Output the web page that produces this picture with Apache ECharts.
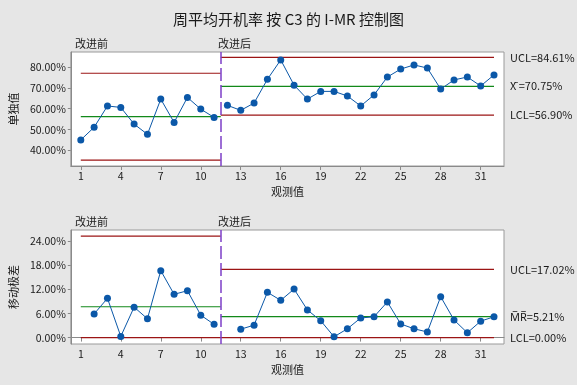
<!DOCTYPE html>
<html>
<head>
<meta charset="utf-8">
<script src="https://cdn.jsdelivr.net/npm/echarts@6/dist/echarts.min.js"></script>
<style>
    html, body { margin: 0; padding: 0; background: #e6e6e6; }
    #chart { width: 577px; height: 385px; }
</style>
</head>
<body>
<div id="chart"></div>
<script>
    // 观测值 1..32, 11 before improvement, 21 after
    const obsPre = [1, 2, 3, 4, 5, 6, 7, 8, 9, 10, 11];
    const obsPost = [12, 13, 14, 15, 16, 17, 18, 19, 20, 21, 22, 23, 24, 25, 26, 27, 28, 29, 30, 31, 32];
    const indivPre = [45.0, 51.1, 61.3, 60.6, 52.6, 47.7, 64.6, 53.4, 65.4, 59.8, 55.8];
    const indivPost = [61.6, 59.2, 62.7, 74.1, 83.4, 71.3, 64.6, 68.3, 68.3, 66.1, 61.3, 66.6, 75.2, 79.0, 81.0, 79.5, 69.4, 73.8, 75.2, 70.9, 76.2];
    const mrPre = [null, 5.9, 9.8, 0.3, 7.6, 4.7, 16.7, 10.8, 11.7, 5.6, 3.3];
    const mrPost = [null, 2.1, 3.1, 11.3, 9.3, 12.1, 6.9, 4.2, 0.2, 2.2, 4.9, 5.2, 8.9, 3.4, 2.2, 1.4, 10.2, 4.4, 1.2, 4.1, 5.2];

    // control limits [UCL, CL, LCL]
    const iLimPre = [77.0, 56.2, 35.3];
    const iLimPost = [84.61, 70.75, 56.90];
    const mrLimPre = [25.3, 7.7, 0];
    const mrLimPost = [17.02, 5.21, 0];

    const xTicks = [1, 4, 7, 10, 13, 16, 19, 22, 25, 28, 31];
    const iTicks = [40, 50, 60, 70, 80];
    const mrTicks = [0, 6, 12, 18, 24];
    const limLabelsI = ['UCL=84.61%', 'X\u0304 =70.75%', 'LCL=56.90%'];
    const limLabelsMR = ['UCL=17.02%', 'M\u0305R\u0305=5.21%', 'LCL=0.00%'];

    const FONT = '"Noto Sans CJK SC", "Noto Sans", sans-serif';
    const RED = '#9b1414', GREEN = '#12891a', BLUE = '#0b58a8', PURPLE = '#7e3fc8';
    const limColors = [RED, GREEN, RED];

    function pairs(xs, ys) {
        return xs.map((x, i) => [x, ys[i] == null ? '-' : ys[i]]);
    }

    // horizontal limit segments drawn as plain line series
    function limitSeries(idx, lims, x0, x1, labels) {
        return lims.map((v, i) => ({
            type: 'line', xAxisIndex: idx, yAxisIndex: idx,
            data: [[x0, v], [x1, v]],
            symbol: 'none', silent: true, z: 3,
            lineStyle: {color: limColors[i], width: 1.2},
            itemStyle: {color: limColors[i]},
            endLabel: labels ? {
                show: true, distance: 16, formatter: labels[i],
                color: '#1a1a1a', fontSize: 11, fontFamily: FONT
            } : {show: false}
        }));
    }

    function xAxis(idx) {
        return {
            gridIndex: idx, type: 'value', min: 0.25, max: 32.75,
            name: '观测值', nameLocation: 'middle', nameGap: 20,
            nameTextStyle: {color: '#1a1a1a', fontSize: 11, fontFamily: FONT},
            axisLine: {show: true, lineStyle: {color: '#8a8a8a'}},
            axisTick: {show: true, length: 4, customValues: xTicks, lineStyle: {color: '#8a8a8a'}},
            axisLabel: {customValues: xTicks, color: '#1a1a1a', fontSize: 10.5, fontFamily: FONT, margin: 5},
            splitLine: {show: false}
        };
    }

    function yAxis(idx, min, max, ticks, name) {
        return {
            gridIndex: idx, type: 'value', min: min, max: max,
            name: name, nameLocation: 'middle', nameGap: 46, nameRotate: 90,
            nameTextStyle: {color: '#1a1a1a', fontSize: 11, fontFamily: FONT},
            axisLine: {show: true, lineStyle: {color: '#8a8a8a'}},
            axisTick: {show: true, length: 3, customValues: ticks, lineStyle: {color: '#8a8a8a'}},
            axisLabel: {
                customValues: ticks, color: '#1a1a1a', fontSize: 10.5, fontFamily: FONT, margin: 5,
                formatter: v => v.toFixed(2) + '%'
            },
            splitLine: {show: false}
        };
    }

    const divider = {
        silent: true, symbol: 'none', animation: false,
        data: [{xAxis: 11.5, lineStyle: {color: PURPLE, width: 1.5, type: [13, 4]}, label: {show: false}}]
    };

    function dataSeries(idx, xs, ys, mark) {
        const s = {
            type: 'line', xAxisIndex: idx, yAxisIndex: idx,
            data: pairs(xs, ys),
            symbol: 'circle', symbolSize: 7, connectNulls: false,
            itemStyle: {color: BLUE}, lineStyle: {color: BLUE, width: 1},
            z: 5
        };
        if (mark) s.markLine = mark;
        return s;
    }

    const chart = echarts.init(document.getElementById('chart'));
    chart.setOption({
        animation: false,
        backgroundColor: '#e6e6e6',
        title: {
            text: '周平均开机率 按 C3 的 I-MR 控制图',
            left: 'center', top: 7,
            textStyle: {color: '#1a1a1a', fontSize: 15, fontWeight: 'normal', fontFamily: FONT}
        },
        grid: [
            {left: 60, right: 73, top: 52, height: 114, show: true, backgroundColor: '#fff', borderColor: '#9a9a9a', borderWidth: 1},
            {left: 60, right: 73, top: 230, height: 114, show: true, backgroundColor: '#fff', borderColor: '#9a9a9a', borderWidth: 1}
        ],
        xAxis: [xAxis(0), xAxis(1)],
        yAxis: [
            yAxis(0, 32.5, 87.2, iTicks, '单独值'),
            yAxis(1, -1.6, 26.85, mrTicks, '移动极差')
        ],
        graphic: [
            {type: 'text', left: 75, top: 38, style: {text: '改进前', fill: '#1a1a1a', font: '11px ' + FONT}},
            {type: 'text', left: 218, top: 38, style: {text: '改进后', fill: '#1a1a1a', font: '11px ' + FONT}},
            {type: 'text', left: 75, top: 216, style: {text: '改进前', fill: '#1a1a1a', font: '11px ' + FONT}},
            {type: 'text', left: 218, top: 216, style: {text: '改进后', fill: '#1a1a1a', font: '11px ' + FONT}}
        ],
        series: [].concat(
            limitSeries(0, iLimPre, 1, 11.5, null),
            limitSeries(0, iLimPost, 11.5, 32, limLabelsI),
            limitSeries(1, mrLimPre, 1, 11.5, null),
            limitSeries(1, mrLimPost, 11.5, 32, limLabelsMR),
            [
                dataSeries(0, obsPre, indivPre, divider),
                dataSeries(0, obsPost, indivPost, null),
                dataSeries(1, obsPre, mrPre, divider),
                dataSeries(1, obsPost, mrPost, null)
            ]
        )
    });
</script>
</body>
</html>
